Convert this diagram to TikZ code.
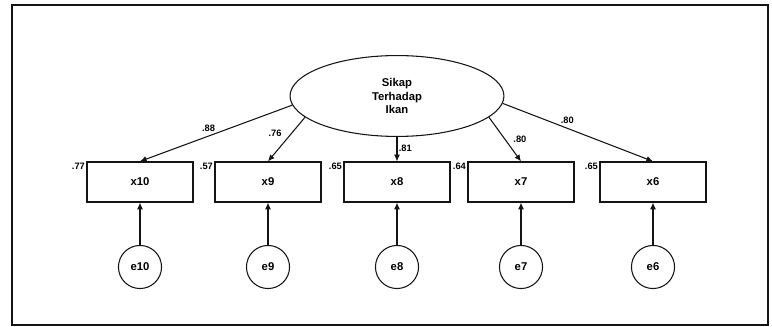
\documentclass[tikz,border=0pt]{standalone}
\usepackage{fontspec}
\setmainfont{Liberation Sans}
\usepackage{tikz}
\usetikzlibrary{arrows.meta, positioning, shapes.geometric}
\definecolor{inkblack}{RGB}{20, 20, 20}

\begin{document}
\begin{tikzpicture}[x=0.02646cm, y=-0.02646cm, font=\fontsize{8.5}{9.5}\selectfont\bfseries,
    indicator/.style={draw=inkblack, line width=0.9pt, minimum width=2.8cm, minimum height=1.06cm, inner sep=0pt},
    errorterm/.style={draw=inkblack, circle, line width=0.8pt, minimum size=1.14cm, inner sep=0pt},
    latentvar/.style={draw=inkblack, ellipse, line width=0.8pt, minimum width=5.66cm, minimum height=2.14cm, align=center, inner sep=0pt},
    loading/.style={-{Latex[length=5pt, width=4.5pt]}, line width=0.8pt, draw=inkblack},
    coef/.style={font=\fontsize{7}{8}\selectfont\bfseries, inner sep=1pt}]
  \useasboundingbox (0,0) rectangle (772,327);
  \draw[line width=1.5pt, inkblack] (12,5) rectangle (768,325);

  % latent factor
  \node[latentvar] (sikap) at (397,96) {Sikap\\[1pt]Terhadap\\[1pt]Ikan};

  % observed indicators
  \node[indicator] (x10) at (140,182) {x10};
  \node[indicator] (x9) at (268,182) {x9};
  \node[indicator] (x8) at (397,182) {x8};
  \node[indicator] (x7) at (521,182) {x7};
  \node[indicator] (x6) at (653,182) {x6};

  % squared multiple correlations
  \node[coef, anchor=north east] (r10) at (x10.north west) {.77};
  \node[coef, anchor=north east] (r9) at (x9.north west) {.57};
  \node[coef, anchor=north east] (r8) at (x8.north west) {.65};
  \node[coef, anchor=north east] (r7) at (x7.north west) {.64};
  \node[coef, anchor=north east] (r6) at (x6.north west) {.65};

  % error terms
  \node[errorterm] (e10) at (140,267) {e10};
  \node[errorterm] (e9) at (268,267) {e9};
  \node[errorterm] (e8) at (397,267) {e8};
  \node[errorterm] (e7) at (521,267) {e7};
  \node[errorterm] (e6) at (653,267) {e6};

  % factor loadings
  \draw[loading] (sikap.185) -- (x10.north) node[coef, pos=0.55, above=2pt] {.88};
  \draw[loading] (sikap.193) -- (x9.north) node[coef, pos=0.37, left=6pt] {.76};
  \draw[loading] (sikap.south) -- (x8.north) node[coef, pos=0.45, right] {.81};
  \draw[loading] (sikap.347) -- (x7.north) node[coef, pos=0.5, right=5pt] {.80};
  \draw[loading] (sikap.356) -- (x6.north) node[coef, pos=0.43, above=2pt] {.80};

  \draw[loading] (e10) -- (x10);
  \draw[loading] (e9) -- (x9);
  \draw[loading] (e8) -- (x8);
  \draw[loading] (e7) -- (x7);
  \draw[loading] (e6) -- (x6);
\end{tikzpicture}
\end{document}
